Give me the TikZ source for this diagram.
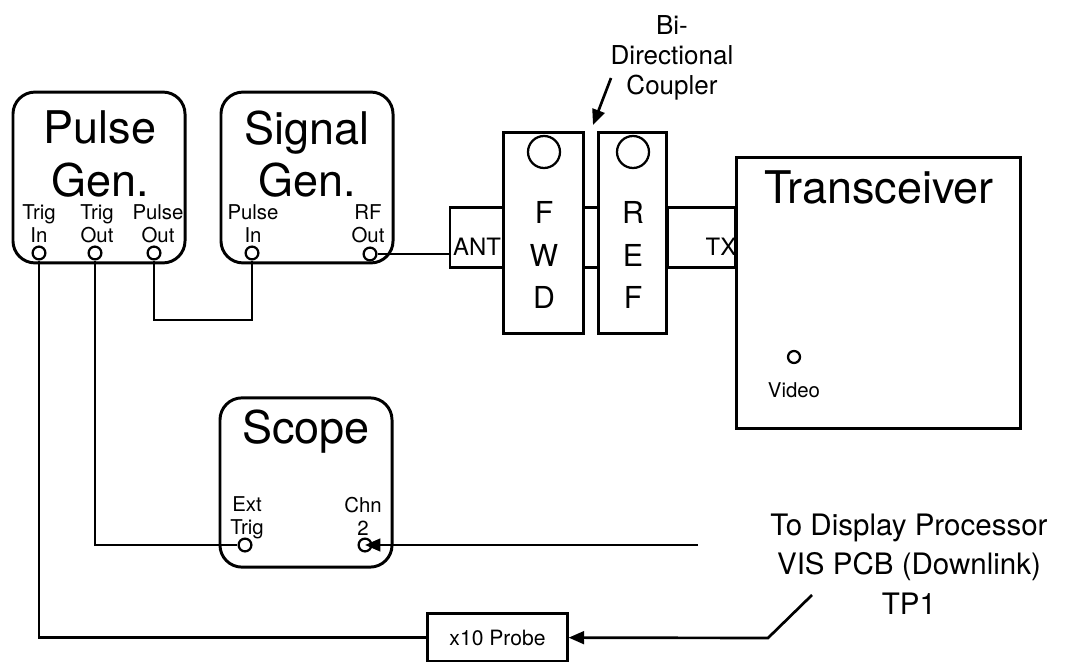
\documentclass[tikz,border=0pt]{standalone}
\usepackage{fontspec}
\setmainfont{TeX Gyre Heros}
\usetikzlibrary{arrows.meta, positioning}

\begin{document}
\begin{tikzpicture}[
  x=0.025cm, y=-0.025cm,
  unit/.style={draw, rounded corners=0.55cm, line width=2.1pt,
               minimum width=4.3cm, minimum height=4.27cm},
  plainbox/.style={draw, line width=2.1pt, inner sep=0pt},
  port/.style={circle, draw, line width=1.6pt, minimum size=0.32cm, inner sep=0pt},
  title/.style={font=\fontsize{32}{37}\selectfont, align=center, inner sep=0pt},
  letters/.style={font=\fontsize{21.5}{30}\selectfont, align=center, inner sep=0pt},
  tag/.style={font=\fontsize{14.5}{16.3}\selectfont, align=center, inner sep=0pt},
  note/.style={font=\fontsize{21}{28}\selectfont, align=center, inner sep=0pt},
  wire/.style={line width=1.9pt},
  arr/.style={wire, -{Triangle[length=11pt, width=9pt]}}
]
\useasboundingbox (0,0) rectangle (1079,662);

% instruments
\node[unit] (pulsegen)  at (99,177.5) {};
\node[unit] (signalgen) at (307,177.5) {};
\node[unit, minimum height=4.23cm] (scope) at (306,482.5) {};
\node[plainbox, minimum width=7.12cm, minimum height=6.75cm] (xcvr) at (878.5,293) {};

\node[title] (pulsetxt)  at (100,154) {Pulse\\Gen.};
\node[title] (signaltxt) at (307,154) {Signal\\Gen.};
\node[title] (scopetxt)  at (306,432) {Scope};
\node[title] (xcvrtxt)   at (879,187) {Transceiver};

% coupler
\node[plainbox, minimum width=1.35cm, minimum height=1.52cm] (ant)  at (477,237.5) {};
\node[plainbox, minimum width=0.38cm, minimum height=1.52cm] (link) at (590.5,237.5) {};
\node[plainbox, minimum width=1.72cm, minimum height=1.52cm] (tx)   at (701.5,237.5) {};
\node[plainbox, fill=white, minimum width=1.98cm, minimum height=5cm] (fwd) at (543.5,233) {};
\node[plainbox, fill=white, minimum width=1.72cm, minimum height=5cm] (ref) at (632.5,233) {};
\node[port, minimum size=0.8cm] (fwdlamp) at (544,152) {};
\node[port, minimum size=0.8cm] (reflamp) at (633,152) {};
\node[letters] (fwdtxt) at (544,255) {F\\W\\D};
\node[letters] (reftxt) at (633,255) {R\\E\\F};
\node[font=\fontsize{17}{17}\selectfont, inner sep=0pt] (anttxt) at (477,247) {ANT};
\node[font=\fontsize{17}{17}\selectfont, inner sep=0pt] (txtxt)  at (721,247) {TX};
\node[font=\fontsize{18.5}{21.3}\selectfont, align=center, inner sep=0pt] (coupler) at (672,58)
  {Bi-\\Directional\\Coupler};

% ports
\node[port] (trigin)   at (39,253) {};
\node[port] (trigout)  at (95,253) {};
\node[port] (pulseout) at (154,253) {};
\node[port] (pulsein)  at (252,253) {};
\node[port] (rfout)    at (370,254) {};
\node[port] (exttrig)  at (245,545) {};
\node[port] (chn)      at (365,545) {};
\node[port, minimum size=0.3cm] (video) at (794,357) {};

\node[tag] (triginlbl)   at (39,224)  {Trig\\In};
\node[tag] (trigoutlbl)  at (97,224)  {Trig\\Out};
\node[tag] (pulseoutlbl) at (158,224) {Pulse\\Out};
\node[tag] (pulseinlbl)  at (253,224) {Pulse\\In};
\node[tag] (rfoutlbl)    at (368,224) {RF\\Out};
\node[tag] (exttriglbl)  at (247,518) {Ext\\Trig};
\node[tag] (chnlbl)      at (363,516) {Chn\\2};
\node[tag] (videolbl)    at (794,390) {Video};

% probe and test point
\node[plainbox, minimum width=3.48cm, minimum height=1.18cm,
      font=\fontsize{15}{15}\selectfont] (probe) at (497.5,637.5) {x10 Probe};
\node[note] (tpnote) at (909,564) {To Display Processor\\VIS PCB (Downlink)\\TP1};

\coordinate (cplstart) at (611,78);
\coordinate (cpltip)   at (593,125);
\coordinate (pbot)     at (154,320);
\coordinate (chnend)   at (698,545);
\coordinate (tptop)    at (812,595);
\coordinate (tpbend)   at (768,638);

% wiring
\draw[wire] (trigin) |- (probe.west);
\draw[wire] (trigout) |- (exttrig);
\draw[wire] (pulseout) -- (pbot) -| (pulsein);
\draw[wire] (rfout) -- (rfout -| ant.west);
\draw[arr] (chnend) -- (chn.center);
\draw[arr] (tptop) -- (tpbend) -- (probe);
\draw[arr] (cplstart) -- (cpltip);

\end{tikzpicture}
\end{document}
